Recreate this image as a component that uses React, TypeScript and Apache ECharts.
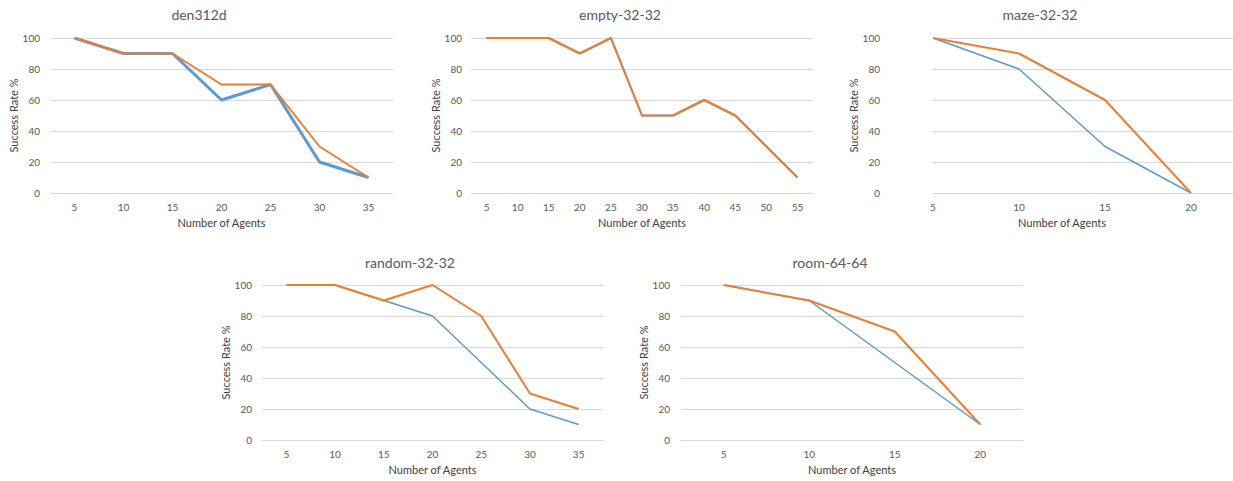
import React, { useEffect, useRef } from "react";
import * as echarts from "echarts";

const titles = ["den312d", "empty-32-32", "maze-32-32", "random-32-32", "room-64-64"];

const den312dAgents = ["5", "10", "15", "20", "25", "30", "35"];
const den312dBlue = [100, 90, 90, 60, 70, 20, 10];
const den312dOrange = [100, 90, 90, 70, 70, 30, 10];

const emptyAgents = ["5", "10", "15", "20", "25", "30", "35", "40", "45", "50", "55"];
const emptyBlue = [100, 100, 100, 90, 100, 50, 50, 60, 50, 30, 10];
const emptyOrange = [100, 100, 100, 90, 100, 50, 50, 60, 50, 30, 10];

const mazeAgents = [5, 10, 15, 20];
const mazeBlue = [100, 80, 30, 0];
const mazeOrange = [100, 90, 60, 0];

const randomAgents = ["5", "10", "15", "20", "25", "30", "35"];
const randomBlue = [100, 100, 90, 80, 50, 20, 10];
const randomOrange = [100, 100, 90, 100, 80, 30, 20];

const roomAgents = ["5", "10", "15", "20"];
const roomBlue = [100, 90, 50, 10];
const roomOrange = [100, 90, 70, 10];

const yTicks = [0, 20, 40, 60, 80, 100];

const BLUE = "#5b9bd5";
const ORANGE = "#ed7d31";
const TXT = "#595959";
const GRID = "#d9d9d9";
const FONT = "Lato";

export default function App() {
  const ref = useRef<HTMLDivElement>(null);
  useEffect(() => {
    document.body.style.margin = "0";
    const chart = echarts.init(ref.current!, null, { renderer: "svg" });

    const grids = [
      { left: 50, top: 38, width: 343, height: 155 },
      { left: 471, top: 38, width: 342, height: 155 },
      { left: 933, top: 38, width: 300, height: 155 },
      { left: 262, top: 285, width: 341, height: 155 },
      { left: 681, top: 285, width: 342, height: 155 },
    ];
    const titlePos = [
      { x: 199, y: 7 },
      { x: 620, y: 7 },
      { x: 1040, y: 7 },
      { x: 410, y: 255 },
      { x: 830, y: 255 },
    ];
    const yLabelMargin = [10, 9, 53, 10, 11];
    const yNameGap = [28, 28, 69, 30, 29];

    const yAxes = grids.map((_, i) => ({
      type: "value",
      gridIndex: i,
      min: 0,
      max: 100,
      interval: 20,
      axisLine: { show: false },
      axisTick: { show: false },
      axisLabel: { color: TXT, fontSize: 10, fontFamily: FONT, margin: yLabelMargin[i] },
      splitLine: { lineStyle: { color: GRID, width: 1 } },
      name: "Success Rate %",
      nameLocation: "middle",
      nameRotate: 90,
      nameGap: yNameGap[i],
      nameTextStyle: { color: "#404040", fontSize: 11, fontFamily: FONT },
    }));

    const catX = (i: number, data: string[]) => ({
      type: "category",
      gridIndex: i,
      data,
      boundaryGap: true,
      axisLine: { show: true, lineStyle: { color: GRID } },
      axisTick: { show: false },
      axisLabel: { color: TXT, fontSize: 10, fontFamily: FONT, margin: 9 },
      name: "Number of Agents",
      nameLocation: "middle",
      nameGap: 24,
      nameTextStyle: { color: "#404040", fontSize: 11, fontFamily: FONT },
    });

    const xAxes: any[] = [
      catX(0, den312dAgents),
      catX(1, emptyAgents),
      {
        type: "value",
        gridIndex: 2,
        min: 5,
        max: 22.44,
        splitLine: { show: false },
        axisLine: { show: true, lineStyle: { color: GRID } },
        axisTick: { show: false },
        axisLabel: {
          color: TXT,
          fontSize: 10,
          fontFamily: FONT,
          margin: 9,
          customValues: mazeAgents,
        },
        name: "Number of Agents",
        nameLocation: "middle",
        nameGap: 24,
        nameTextStyle: { color: "#404040", fontSize: 11, fontFamily: FONT, padding: [0, 42, 0, 0] },
      },
      catX(3, randomAgents),
      catX(4, roomAgents),
    ];

    const line = (i: number, data: any[], color: string, width: number, z: number) => ({
      type: "line",
      xAxisIndex: i,
      yAxisIndex: i,
      data,
      symbol: "none",
      z,
      lineStyle: { color, width },
      itemStyle: { color },
    });

    const series = [
      line(0, den312dBlue, BLUE, 3, 2),
      line(0, den312dOrange, ORANGE, 2, 3),
      line(1, emptyBlue, BLUE, 2, 2),
      line(1, emptyOrange, ORANGE, 2, 3),
      line(2, mazeAgents.map((a, k) => [a, mazeBlue[k]]), BLUE, 1.5, 2),
      line(2, mazeAgents.map((a, k) => [a, mazeOrange[k]]), ORANGE, 2, 3),
      line(3, randomBlue, BLUE, 1.5, 2),
      line(3, randomOrange, ORANGE, 2, 3),
      line(4, roomBlue, BLUE, 1.5, 2),
      line(4, roomOrange, ORANGE, 2, 3),
    ];

    chart.setOption({
      animation: false,
      backgroundColor: "#ffffff",
      title: titles.map((t, i) => ({
        text: t,
        left: titlePos[i].x,
        top: titlePos[i].y,
        textAlign: "center",
        padding: 0,
        textStyle: { color: TXT, fontSize: 14, fontWeight: "normal", fontFamily: FONT },
      })),
      grid: grids,
      xAxis: xAxes,
      yAxis: yAxes,
      series,
    });
    return () => chart.dispose();
  }, []);
  return <div ref={ref} style={{ width: 1233, height: 481 }} />;
}
